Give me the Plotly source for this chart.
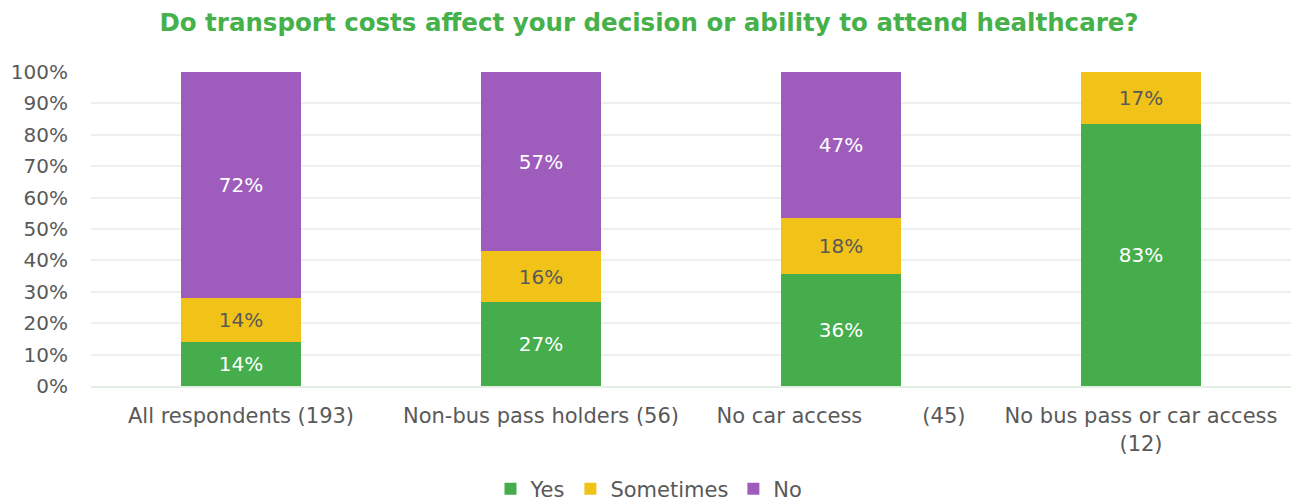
import plotly.graph_objects as go

# Survey groups (respondent counts in brackets)
categories = [
    "All respondents (193)",
    "Non-bus pass holders (56)",
    "No car access" + "\u00a0" * 9 + "(45)",
    "No bus pass or car access<br>(12)",
]

# Share of respondents per answer, in percent
yes_pct = [14.0, 26.8, 35.6, 83.3]
sometimes_pct = [14.0, 16.1, 17.8, 16.7]
no_pct = [72.0, 57.1, 46.7, None]

y_ticks = [0, 10, 20, 30, 40, 50, 60, 70, 80, 90, 100]
y_tick_labels = [f"{v}%" for v in y_ticks]

FONT = "DejaVu Sans"
TEXT_GREY = "#595959"

series = [
    ("Yes", yes_pct, "#46AD4D", "white"),
    ("Sometimes", sometimes_pct, "#F1C318", TEXT_GREY),
    ("No", no_pct, "#9E5CBD", "white"),
]

fig = go.Figure()
for name, values, colour, label_colour in series:
    fig.add_trace(go.Bar(
        name=name,
        x=categories,
        y=values,
        marker=dict(color=colour, line=dict(width=0)),
        texttemplate="%{y:.0f}%",
        textposition="inside",
        insidetextanchor="middle",
        textangle=0,
        textfont=dict(family=FONT, size=20, color=label_colour),
        hoverinfo="skip",
    ))

fig.update_layout(
    barmode="stack",
    bargap=0.6,
    width=1298,
    height=501,
    margin=dict(l=91, r=7, t=72, b=115, autoexpand=False),
    paper_bgcolor="white",
    plot_bgcolor="white",
    font=dict(family=FONT, color=TEXT_GREY, size=20),
    title=dict(
        text="<b>Do transport costs affect your decision or ability to attend healthcare?</b>",
        x=0.5,
        xanchor="center",
        y=0.955,
        yanchor="middle",
        font=dict(family=FONT, size=24.5, color="#46B04A"),
    ),
    legend=dict(
        orientation="h",
        x=0.5,
        xanchor="center",
        xref="container",
        y=0.024,
        yanchor="middle",
        yref="container",
        font=dict(family=FONT, size=21, color=TEXT_GREY),
        itemwidth=30,
        traceorder="normal",
    ),
    showlegend=True,
)

fig.update_xaxes(
    showgrid=False,
    showline=True,
    linecolor="#E3EFE3",
    linewidth=2,
    tickfont=dict(family=FONT, size=21, color=TEXT_GREY),
    ticklabelstandoff=10,
)

fig.update_yaxes(
    range=[0, 100],
    tickvals=y_ticks,
    ticktext=y_tick_labels,
    showgrid=True,
    gridcolor="#EFEFEF",
    gridwidth=2,
    zeroline=False,
    tickfont=dict(family=FONT, size=20, color=TEXT_GREY),
    ticklabelstandoff=22,
)

fig.write_html("out.html")
